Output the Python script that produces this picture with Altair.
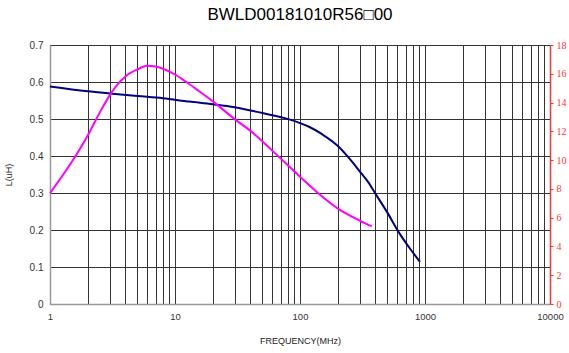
import altair as alt
import pandas as pd

# Inductance curve L(uH) vs frequency (MHz)
l_freq = [1, 2, 3, 5, 8, 13, 20, 30, 50, 82, 100, 118, 150, 204, 250, 295, 350, 400, 500, 614, 750, 912]
l_vals = [0.588, 0.575, 0.569, 0.562, 0.556, 0.547, 0.540, 0.532, 0.516, 0.499, 0.489,
          0.479, 0.459, 0.425, 0.392, 0.362, 0.330, 0.299, 0.247, 0.195, 0.152, 0.114]

# Q curve vs frequency (MHz), right axis
q_freq = [1, 1.5, 2, 2.5, 3, 3.5, 4, 5, 6, 7, 8, 10, 12, 15, 20, 30, 40, 60, 100, 140, 200, 300, 375]
q_vals = [7.7, 9.9, 11.7, 13.3, 14.5, 15.3, 15.8, 16.3, 16.55, 16.5, 16.35, 15.95, 15.5,
          14.9, 14.1, 12.85, 12.05, 10.66, 8.85, 7.7, 6.65, 5.8, 5.4]

x_ticks = [1, 2, 3, 4, 5, 6, 7, 8, 9,
           10, 20, 30, 40, 50, 60, 70, 80, 90,
           100, 200, 300, 400, 500, 600, 700, 800, 900,
           1000, 2000, 3000, 4000, 5000, 6000, 7000, 8000, 9000, 10000]
left_ticks = [0, 0.1, 0.2, 0.3, 0.4, 0.5, 0.6, 0.7]
right_ticks = [0, 2, 4, 6, 8, 10, 12, 14, 16, 18]

title_text = "BWLD00181010R56\u25a100"
x_title = "FREQUENCY(MHz)"
y_title = "L(uH)"

df_l = pd.DataFrame({"f": l_freq, "v": l_vals})
df_q = pd.DataFrame({"f": q_freq, "v": q_vals})

FONT = "Liberation Sans"

x_scale = alt.Scale(type="log", domain=[1, 10000], nice=False)

x_axis = alt.Axis(
    values=x_ticks,
    format="d",
    labelExpr="indexof([1,10,100,1000,10000], datum.value) >= 0 ? datum.label : ''",
    grid=True, gridColor="#333333", gridWidth=1, gridOpacity=1,
    ticks=False, domainColor="#999999", domainWidth=1.5,
    labelFont=FONT, labelFontSize=9.5, labelColor="#333333", labelPadding=7,
    labelFlush=False, labelOverlap=False,
    title=x_title, titleFont=FONT, titleFontSize=9, titleFontWeight="normal",
    titleColor="#222222", titlePadding=16,
)

left = alt.Chart(df_l).mark_line(color="#000080", strokeWidth=2, interpolate="monotone").encode(
    x=alt.X("f:Q", scale=x_scale, axis=x_axis),
    y=alt.Y("v:Q", scale=alt.Scale(domain=[0, 0.7], nice=False, zero=True),
            axis=alt.Axis(values=left_ticks, format=".1~f", grid=True, gridColor="#333333", gridWidth=1,
                          ticks=False, domainColor="#999999", domainWidth=1.5,
                          labelFont=FONT, labelFontSize=10, labelColor="#333333", labelPadding=7,
                          title=y_title, titleFont=FONT, titleFontSize=9, titleFontWeight="normal",
                          titleColor="#222222", titlePadding=16)),
)

right = alt.Chart(df_q).mark_line(color="#FF00FF", strokeWidth=2, interpolate="monotone").encode(
    x=alt.X("f:Q", scale=x_scale, axis=x_axis),
    y=alt.Y("v:Q", scale=alt.Scale(domain=[0, 18], nice=False, zero=True),
            axis=alt.Axis(orient="right", values=right_ticks, grid=False,
                          ticks=True, tickColor="#FF3333", tickSize=3,
                          domainColor="#FF3333", domainWidth=1.5,
                          labelFont="Liberation Serif", labelFontSize=10, labelColor="#FF3333",
                          labelPadding=3, title=None)),
)

chart = alt.layer(left, right).resolve_scale(y="independent").properties(
    width=500,
    height=259,
    autosize=alt.AutoSizeParams(type="none"),
    padding={"left": 50, "top": 45, "right": 19, "bottom": 49},
    title=alt.TitleParams(text=title_text, font=FONT, fontSize=17, fontWeight="normal",
                          color="#000000", anchor="middle", offset=16),
).configure_view(stroke=None).configure(background="white")

chart.save("out.html", embed_options={"renderer": "svg", "actions": False})
